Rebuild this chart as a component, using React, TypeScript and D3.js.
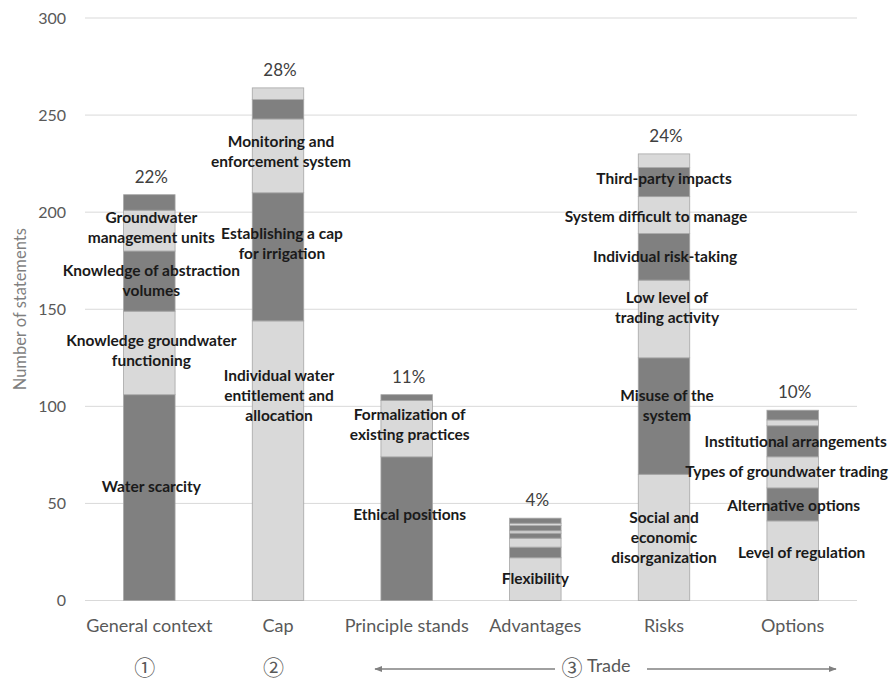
import React, { useRef, useEffect } from 'react';
import * as d3 from 'd3';

// categories and labels
const categories = ['General context', 'Cap', 'Principle stands', 'Advantages', 'Risks', 'Options'];
const percentLabels = ['22%', '28%', '11%', '4%', '24%', '10%'];
const yTicks = [0, 50, 100, 150, 200, 250, 300];
const groupMarks = ['①', '②', '③'];

// stacked segments per category (bottom to top), '\n' marks a line break
const generalContextValues = [106, 43, 31, 21, 8];
const generalContextNames = [
  'Water scarcity',
  'Knowledge groundwater\nfunctioning',
  'Knowledge of abstraction\nvolumes',
  'Groundwater\nmanagement units',
  '',
];
const capValues = [144, 66, 38, 10, 6];
const capNames = [
  'Individual water\nentitlement and\nallocation',
  'Establishing a cap\nfor irrigation',
  'Monitoring and\nenforcement system',
  '',
  '',
];
const principleValues = [74, 29, 3];
const principleNames = ['Ethical positions', 'Formalization of\nexisting practices', ''];
const advantagesValues = [22, 5.5, 4.6, 2.6, 1.2, 2.7, 1.2, 2.6];
const advantagesNames = ['Flexibility', '', '', '', '', '', '', ''];
const risksValues = [65, 60, 40, 24, 19, 15, 7];
const risksNames = [
  'Social and\neconomic\ndisorganization',
  'Misuse of the\nsystem',
  'Low level of\ntrading activity',
  'Individual risk-taking',
  'System difficult to manage',
  'Third-party impacts',
  '',
];
const optionsValues = [41, 17, 16, 16, 3, 5];
const optionsNames = [
  'Level of regulation',
  'Alternative options',
  'Types of groundwater trading',
  'Institutional arrangements',
  '',
  '',
];

const allValues = [generalContextValues, capValues, principleValues, advantagesValues, risksValues, optionsValues];
const allNames = [generalContextNames, capNames, principleNames, advantagesNames, risksNames, optionsNames];

// layout: which bars start with the dark shade, label nudges in px
const startsDark = [true, false, true, false, false, false];
const labelNudge: Record<string, [number, number]> = {
  'Water scarcity': [2, -11],
  'Knowledge groundwater\nfunctioning': [2, -2],
  'Knowledge of abstraction\nvolumes': [2, -1],
  'Groundwater\nmanagement units': [2, -3],
  'Individual water\nentitlement and\nallocation': [1, -65],
  'Establishing a cap\nfor irrigation': [4, -13],
  'Monitoring and\nenforcement system': [3, -4],
  'Ethical positions': [3, -14],
  'Formalization of\nexisting practices': [3, -4],
  'Flexibility': [0, -1],
  'Social and\neconomic\ndisorganization': [0, 0],
  'Misuse of the\nsystem': [3, -10],
  'Low level of\ntrading activity': [3, -11],
  'Individual risk-taking': [1, 0],
  'System difficult to manage': [-8, 1],
  'Third-party impacts': [0, -3],
  'Level of regulation': [9, -8],
  'Alternative options': [1, 1],
  'Types of groundwater trading': [-6, -1],
  'Institutional arrangements': [3, 0],
};

const DARK = '#808080';
const LIGHT = '#d9d9d9';

export default function App() {
  const svgRef = useRef<SVGSVGElement | null>(null);
  const width = 892;
  const height = 682;

  useEffect(() => {
    if (!svgRef.current) return;
    const svg = d3.select(svgRef.current);
    svg.selectAll('*').remove();

    const left = 85;
    const right = 857;
    const xScale = d3.scaleBand<string>()
      .domain(categories)
      .range([left, right])
      .paddingInner(0.6)
      .paddingOuter(0.3);
    const yScale = d3.scaleLinear().domain([0, 300]).range([600.5, 18]);

    // gridlines
    svg.append('g')
      .selectAll('line')
      .data(yTicks)
      .join('line')
      .attr('x1', left)
      .attr('x2', right)
      .attr('y1', d => yScale(d))
      .attr('y2', d => yScale(d))
      .attr('stroke', '#d9d9d9')
      .attr('stroke-width', 1);

    // y tick labels
    svg.append('g')
      .selectAll('text')
      .data(yTicks)
      .join('text')
      .attr('x', 66)
      .attr('y', d => yScale(d))
      .attr('dy', '0.35em')
      .attr('text-anchor', 'end')
      .attr('font-family', 'Lato, sans-serif')
      .attr('font-size', 16)
      .attr('fill', '#595959')
      .text(d => d);

    // y axis title
    svg.append('text')
      .attr('transform', `translate(20,${yScale(150)}) rotate(-90)`)
      .attr('dy', '0.35em')
      .attr('text-anchor', 'middle')
      .attr('font-family', 'Lato, sans-serif')
      .attr('font-size', 16.5)
      .attr('fill', '#7f7f7f')
      .text('Number of statements');

    const bw = xScale.bandwidth();

    // stacked bars
    categories.forEach((cat, i) => {
      const values = allValues[i];
      const names = allNames[i];
      const x0 = xScale(cat)!;
      let cum = 0;
      const segs = values.map((v, j) => {
        const s = { y0: cum, y1: cum + v, name: names[j], dark: (j % 2 === 0) === startsDark[i] };
        cum += v;
        return s;
      });

      const g = svg.append('g');
      g.selectAll('rect')
        .data(segs)
        .join('rect')
        .attr('x', x0)
        .attr('width', bw)
        .attr('y', d => yScale(d.y1))
        .attr('height', d => yScale(d.y0) - yScale(d.y1))
        .attr('fill', d => (d.dark ? DARK : LIGHT))
        .attr('stroke', '#a6a6a6')
        .attr('stroke-width', 0.8);

      // percentage above bar
      svg.append('text')
        .attr('x', x0 + bw / 2 + 2)
        .attr('y', yScale(cum) - 12)
        .attr('text-anchor', 'middle')
        .attr('font-family', 'Lato, sans-serif')
        .attr('font-size', 17)
        .attr('fill', '#404040')
        .text(percentLabels[i]);

      // category label
      svg.append('text')
        .attr('x', x0 + bw / 2)
        .attr('y', 626)
        .attr('dy', '0.35em')
        .attr('text-anchor', 'middle')
        .attr('font-family', 'Lato, sans-serif')
        .attr('font-size', 18)
        .attr('fill', '#595959')
        .text(cat);
    });

    // segment labels (drawn after all bars so they sit on top)
    categories.forEach((cat, i) => {
      const values = allValues[i];
      const names = allNames[i];
      const cx = xScale(cat)! + bw / 2;
      let cum = 0;
      values.forEach((v, j) => {
        const mid = cum + v / 2;
        cum += v;
        const name = names[j];
        if (!name) return;
        const [dx, dy] = labelNudge[name] || [0, 0];
        const lines = name.split('\n');
        const lh = 20;
        const cy = yScale(mid) + dy;
        const t = svg.append('text')
          .attr('text-anchor', 'middle')
          .attr('font-family', 'Lato, sans-serif')
          .attr('font-weight', 'bold')
          .attr('font-size', 15.5)
          .attr('fill', '#1a1a1a');
        lines.forEach((ln, k) => {
          t.append('tspan')
            .attr('x', cx + dx)
            .attr('y', cy + (k - (lines.length - 1) / 2) * lh)
            .attr('dy', '0.35em')
            .text(ln);
        });
      });
    });

    // group markers
    const markY = 675;
    [categories[0], categories[1]].forEach((cat, k) => {
      svg.append('text')
        .attr('x', xScale(cat)! + bw / 2 - 4.5)
        .attr('y', markY)
        .attr('text-anchor', 'middle')
        .attr('font-family', '"Noto Sans CJK JP", sans-serif')
        .attr('font-size', 21)
        .attr('fill', '#595959')
        .text(groupMarks[k]);
    });
    svg.append('text')
      .attr('x', 572)
      .attr('y', markY)
      .attr('text-anchor', 'middle')
      .attr('font-family', '"Noto Sans CJK JP", sans-serif')
      .attr('font-size', 21)
      .attr('fill', '#595959')
      .text(groupMarks[2]);
    svg.append('text')
      .attr('x', 587)
      .attr('y', 666)
      .attr('dy', '0.35em')
      .attr('font-family', 'Lato, sans-serif')
      .attr('font-size', 18)
      .attr('fill', '#595959')
      .text('Trade');

    // arrows
    const defs = svg.append('defs');
    defs.append('marker')
      .attr('id', 'arrowHead')
      .attr('viewBox', '0 0 10 10')
      .attr('refX', 9)
      .attr('refY', 5)
      .attr('markerWidth', 6)
      .attr('markerHeight', 6)
      .attr('orient', 'auto')
      .append('path')
      .attr('d', 'M0,1 L10,5 L0,9 Z')
      .attr('fill', '#808080');
    const arrowY = 669;
    svg.append('line')
      .attr('x1', 555).attr('x2', 375)
      .attr('y1', arrowY).attr('y2', arrowY)
      .attr('stroke', '#808080').attr('stroke-width', 1.3)
      .attr('marker-end', 'url(#arrowHead)');
    svg.append('line')
      .attr('x1', 647).attr('x2', 836)
      .attr('y1', arrowY).attr('y2', arrowY)
      .attr('stroke', '#808080').attr('stroke-width', 1.3)
      .attr('marker-end', 'url(#arrowHead)');
  }, []);

  return (
    <svg
      ref={svgRef}
      width={width}
      height={height}
      style={{ position: 'absolute', left: 0, top: 0, background: '#fff' }}
    />
  );
}
